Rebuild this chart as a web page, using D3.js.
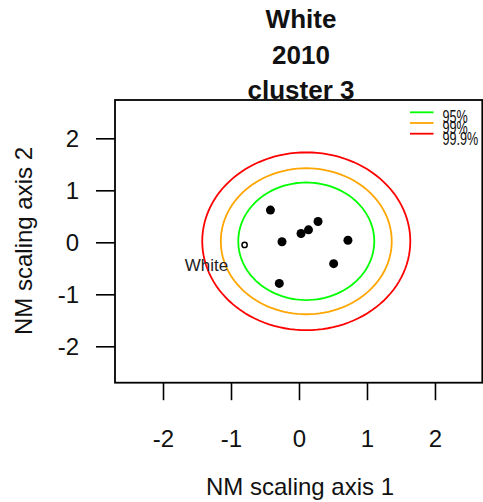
<!DOCTYPE html>
<html>
<head>
<meta charset="utf-8">
<script src="https://cdn.jsdelivr.net/npm/d3@7"></script>
<style>
  body { margin: 0; background: #fff; }
  svg { display: block; font-family: "Liberation Sans", Arial, sans-serif; }
</style>
</head>
<body>
<div id="chart"></div>
<script>
// points of the cluster (NM scaling axes 1 and 2)
const pointX = [-0.42, -0.25, 0.03, 0.14, 0.28, 0.72, 0.51, -0.29];
const pointY = [0.62, 0.01, 0.17, 0.24, 0.40, 0.04, -0.41, -0.79];

// the labelled group point
const groupName = "White";
const groupX = -0.80;
const groupY = -0.05;
const groupLabelX = -1.36;
const groupLabelY = -0.44;

// confidence ellipses
const levels = ["95%", "99%", "99.9%"];
const levelColors = ["#00ff00", "#ffa500", "#ff0000"];
const ellipseCenter = [0.107, 0.02];
const ellipseRx = [1.0, 1.257, 1.53];
const ellipseRy = [1.13, 1.404, 1.71];

const xTicks = [-2, -1, 0, 1, 2];
const yTicks = [-2, -1, 0, 1, 2];
const titleLines = ["White", "2010", "cluster 3"];

const width = 483, height = 502;
const plotLeft = 115, plotRight = 482.3, plotTop = 100, plotBottom = 382.7;

const x = d3.scaleLinear().domain([-2.706, 2.696]).range([plotLeft, plotRight]);
const y = d3.scaleLinear().domain([-2.70, 2.737]).range([plotBottom, plotTop]);

const svg = d3.select("#chart").append("svg")
  .attr("width", width)
  .attr("height", height);

// title
svg.append("g")
  .selectAll("text")
  .data(titleLines)
  .join("text")
  .attr("x", 301)
  .attr("y", (d, i) => 28 + i * 35.5)
  .attr("text-anchor", "middle")
  .style("font-size", "26px")
  .style("font-weight", "bold")
  .attr("fill", "#111")
  .text((d) => d);

// ellipses
const angles = d3.range(0, 361, 3).map((a) => (a * Math.PI) / 180);
const line = d3.line().x((d) => d[0]).y((d) => d[1]);

svg.append("g")
  .selectAll("path")
  .data(levels)
  .join("path")
  .attr("d", (d, i) =>
    line(angles.map((a) => [
      x(ellipseCenter[0] + ellipseRx[i] * Math.cos(a)),
      y(ellipseCenter[1] + ellipseRy[i] * Math.sin(a)),
    ]))
  )
  .attr("fill", "none")
  .attr("stroke", (d, i) => levelColors[i])
  .attr("stroke-width", 1.8);

// points
svg.append("g")
  .selectAll("circle")
  .data(pointX)
  .join("circle")
  .attr("cx", (d) => x(d))
  .attr("cy", (d, i) => y(pointY[i]))
  .attr("r", 4.5)
  .attr("fill", "#000");

svg.append("circle")
  .attr("cx", x(groupX))
  .attr("cy", y(groupY))
  .attr("r", 2.6)
  .attr("fill", "none")
  .attr("stroke", "#000")
  .attr("stroke-width", 1.5);

svg.append("text")
  .attr("x", x(groupLabelX))
  .attr("y", y(groupLabelY))
  .attr("dy", "0.35em")
  .attr("text-anchor", "middle")
  .style("font-size", "17px")
  .attr("fill", "#222")
  .text(groupName);

// legend (the labels overlap in the original too)
const legend = svg.append("g")
  .selectAll("g")
  .data(levels)
  .join("g")
  .attr("transform", (d, i) => `translate(0,${112.3 + i * 10.7})`);

legend.append("line")
  .attr("x1", 410).attr("x2", 433.5)
  .attr("stroke", (d, i) => levelColors[i])
  .attr("stroke-width", 1.8);

legend.append("text")
  .attr("transform", "translate(442.5,11) scale(0.7,1)")
  .style("font-size", "18px")
  .attr("fill", "#111")
  .text((d) => d);

// axes
const xAxis = svg.append("g")
  .attr("transform", `translate(0,${plotBottom})`)
  .call(d3.axisBottom(x).tickValues(xTicks).tickSize(17.5).tickPadding(38).tickFormat((d) => String(d)));

const yAxis = svg.append("g")
  .attr("transform", `translate(${plotLeft},0)`)
  .call(d3.axisLeft(y).tickValues(yTicks).tickSize(19).tickPadding(17).tickFormat((d) => String(d)));

[xAxis, yAxis].forEach((g) => {
  g.select(".domain").remove();
  g.selectAll("line").attr("stroke", "#000").attr("stroke-width", 1.6);
  g.selectAll("text")
    .attr("fill", "#111")
    .style("font-size", "24px")
    .style("font-family", "'Liberation Sans', Arial, sans-serif");
});
xAxis.selectAll("text").attr("dy", "0.35em");
yAxis.selectAll("text").attr("dy", "0.36em");

// frame
svg.append("rect")
  .attr("x", plotLeft).attr("y", plotTop)
  .attr("width", plotRight - plotLeft).attr("height", plotBottom - plotTop)
  .attr("fill", "none")
  .attr("stroke", "#000")
  .attr("stroke-width", 1.8);

// axis titles
svg.append("text")
  .attr("x", 300).attr("y", 495)
  .attr("text-anchor", "middle")
  .style("font-size", "24px")
  .attr("fill", "#111")
  .text("NM scaling axis 1");

svg.append("text")
  .attr("transform", `translate(32,241) rotate(-90)`)
  .attr("text-anchor", "middle")
  .style("font-size", "24px")
  .attr("fill", "#111")
  .text("NM scaling axis 2");
</script>
</body>
</html>
